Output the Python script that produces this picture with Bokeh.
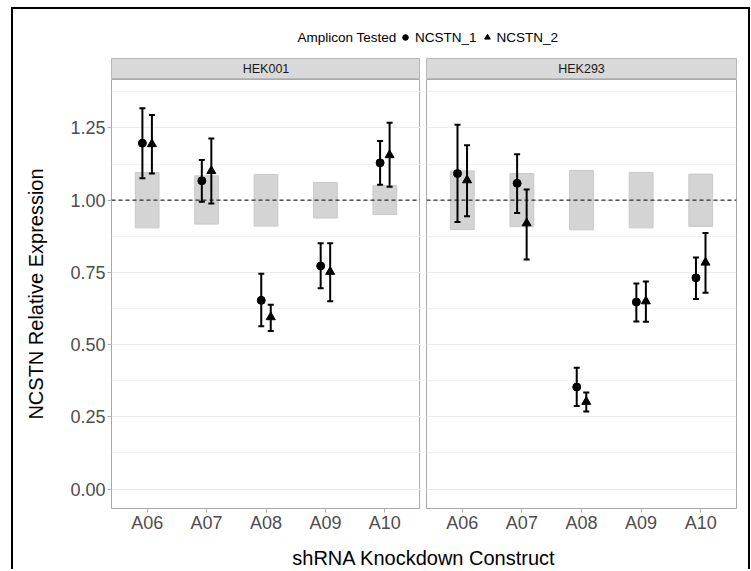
import numpy as np
from bokeh.plotting import figure
from bokeh.models import (ColumnDataSource, Range1d, FactorRange, FixedTicker, Span,
                          Legend, LegendItem, Label, NumeralTickFormatter)
from bokeh.layouts import column, row
from bokeh.transform import dodge
from bokeh.embed import file_html
from bokeh.resources import INLINE

FONT = "Liberation Sans"

constructs = ["A06", "A07", "A08", "A09", "A10"]
cells = ["HEK001", "HEK293"]
amplicons = ["NCSTN_1", "NCSTN_2"]

# HEK001
hek001_n1 = [1.197, 1.067, 0.653, 0.772, 1.129]
hek001_n1_lo = [1.076, 0.994, 0.563, 0.695, 1.053]
hek001_n1_hi = [1.318, 1.139, 0.745, 0.851, 1.205]
hek001_n2 = [1.194, 1.101, 0.595, 0.752, 1.156]
hek001_n2_lo = [1.092, 0.988, 0.547, 0.650, 1.046]
hek001_n2_hi = [1.295, 1.213, 0.638, 0.851, 1.268]
hek001_box_lo = [0.904, 0.917, 0.910, 0.938, 0.950]
hek001_box_hi = [1.096, 1.084, 1.089, 1.061, 1.050]

# HEK293
hek293_n1 = [1.092, 1.058, 0.353, 0.647, 0.731]
hek293_n1_lo = [0.924, 0.955, 0.287, 0.580, 0.658]
hek293_n1_hi = [1.261, 1.159, 0.420, 0.711, 0.801]
hek293_n2 = [1.069, 0.920, 0.302, 0.650, 0.784]
hek293_n2_lo = [0.944, 0.794, 0.268, 0.579, 0.679]
hek293_n2_hi = [1.190, 1.037, 0.334, 0.718, 0.886]
hek293_box_lo = [0.898, 0.908, 0.897, 0.904, 0.909]
hek293_box_hi = [1.101, 1.092, 1.103, 1.096, 1.090]

y_ticks = [0.0, 0.25, 0.5, 0.75, 1.0, 1.25]
y_minor = [0.125, 0.375, 0.625, 0.875, 1.125, 1.375]

panel_data = {
    "HEK001": dict(n1=(hek001_n1, hek001_n1_lo, hek001_n1_hi),
                   n2=(hek001_n2, hek001_n2_lo, hek001_n2_hi),
                   box=(hek001_box_lo, hek001_box_hi)),
    "HEK293": dict(n1=(hek293_n1, hek293_n1_lo, hek293_n1_hi),
                   n2=(hek293_n2, hek293_n2_lo, hek293_n2_hi),
                   box=(hek293_box_lo, hek293_box_hi)),
}

y_range = Range1d(-0.0675, 1.4175)
BORDER_GRAY = "#a9a9a9"
DODGE = 0.08


def make_strip(text, width, left, right):
    s = figure(width=width, height=21, x_range=Range1d(0, 1), y_range=Range1d(0, 1),
               toolbar_location=None, output_backend="svg",
               min_border_left=left, min_border_right=right, min_border_top=0, min_border_bottom=0)
    s.axis.visible = False
    s.grid.visible = False
    s.background_fill_color = "#d9d9d9"
    s.outline_line_color = "#b8b8b8"
    s.outline_line_width = 1
    s.add_layout(Label(x=0.5, y=0.5, text=text, text_align="center", text_baseline="middle",
                       text_font=FONT, text_font_size="12.5px", text_color="#1a1a1a"))
    return s


def make_panel(cell, width, left, right, show_y):
    d = panel_data[cell]
    p = figure(width=width, height=457, x_range=FactorRange(*constructs, range_padding=0.04),
               y_range=y_range, toolbar_location=None, output_backend="svg",
               min_border_left=left, min_border_right=right, min_border_top=0, min_border_bottom=28)
    p.background_fill_color = "white"
    p.outline_line_color = BORDER_GRAY
    p.outline_line_width = 1
    p.xgrid.grid_line_color = None
    p.ygrid.grid_line_color = "#ebebeb"
    p.ygrid.grid_line_width = 1
    p.ygrid.minor_grid_line_color = "#f4f4f4"
    p.ygrid.minor_grid_line_width = 1
    p.yaxis.ticker = FixedTicker(ticks=y_ticks, minor_ticks=y_minor)
    p.yaxis.formatter = NumeralTickFormatter(format="0.00")
    for ax in (p.xaxis, p.yaxis):
        ax.axis_line_color = None
        ax.major_tick_line_color = "#b3b3b3"
        ax.major_tick_out = 4
        ax.major_tick_in = 0
        ax.minor_tick_line_color = None
        ax.major_label_text_font = FONT
        ax.major_label_text_font_size = "18px"
        ax.major_label_text_color = "#4d4d4d"
    p.xaxis.major_label_standoff = 0
    p.yaxis.major_label_standoff = 2
    if show_y:
        p.yaxis.axis_label = "NCSTN Relative Expression"
        p.yaxis.axis_label_text_font = FONT
        p.yaxis.axis_label_text_font_size = "20px"
        p.yaxis.axis_label_text_font_style = "normal"
        p.yaxis.axis_label_text_color = "black"
        p.yaxis.axis_label_standoff = 20
    else:
        p.yaxis.visible = False

    box_src = ColumnDataSource(dict(construct=constructs, lo=d["box"][0], hi=d["box"][1]))
    p.vbar(x="construct", bottom="lo", top="hi", width=0.4, source=box_src,
           fill_color="#d4d4d4", line_color="#c9c9c9", line_width=1)

    p.add_layout(Span(location=1.0, dimension="width", line_color="black",
                      line_width=1, line_dash="4 3", level="glyph"))

    for key, off, marker, size in (("n1", -DODGE, "circle", 8), ("n2", DODGE, "triangle", 9)):
        val, lo, hi = d[key]
        src = ColumnDataSource(dict(construct=constructs, val=val, lo=lo, hi=hi))
        xd = dodge("construct", off, range=p.x_range)
        p.segment(x0=xd, x1=xd, y0="lo", y1="hi", source=src, line_color="black", line_width=2)
        p.scatter(x=xd, y="lo", marker="dash", size=6, line_width=2, line_color="black", source=src)
        p.scatter(x=xd, y="hi", marker="dash", size=6, line_width=2, line_color="black", source=src)
        p.scatter(x=xd, y="val", marker=marker, size=size, fill_color="black",
                  line_color="black", source=src)
    return p


# legend figure (pixel-sized ranges so that placement matches the panels)
lf = figure(width=735, height=49, x_range=Range1d(0, 735), y_range=Range1d(0, 49),
            toolbar_location=None, output_backend="svg", min_border=0)
lf.axis.visible = False
lf.grid.visible = False
lf.outline_line_color = None
# legend-only renderers: one undrawn (NaN) row so the legend has a glyph to show
key_src = ColumnDataSource(dict(x=[float("nan")], y=[float("nan")]))
r1 = lf.scatter(x="x", y="y", marker="circle", size=8, color="black", source=key_src)
r2 = lf.scatter(x="x", y="y", marker="triangle", size=9, color="black", source=key_src)
leg = Legend(items=[LegendItem(label=amplicons[0], renderers=[r1], index=0),
                    LegendItem(label=amplicons[1], renderers=[r2], index=0)],
             orientation="horizontal",
             location=(385, 13), padding=0, margin=0, spacing=3, label_standoff=3,
             glyph_width=14, glyph_height=16,
             border_line_color=None, background_fill_alpha=0)
leg.label_text_font = FONT
leg.label_text_font_size = "13.5px"
leg.label_text_color = "black"
lf.add_layout(leg, "center")
lf.add_layout(Label(x=383, y=21, text="Amplicon Tested", text_align="right",
                    text_baseline="middle", text_font=FONT, text_font_size="13.5px",
                    text_color="black"))

s1 = make_strip(cells[0], 407, 98, 0)
p1 = make_panel(cells[0], 407, 98, 0, True)
s2 = make_strip(cells[1], 328, 6, 12)
p2 = make_panel(cells[1], 328, 6, 12, False)

xt = figure(width=735, height=33, x_range=Range1d(0, 735), y_range=Range1d(0, 33),
            toolbar_location=None, output_backend="svg", min_border=0)
xt.axis.visible = False
xt.grid.visible = False
xt.outline_line_color = None
xt.add_layout(Label(x=410.5, y=12, text="shRNA Knockdown Construct", text_align="center",
                    text_baseline="middle", text_font=FONT, text_font_size="20px",
                    text_color="black"))

layout = column(lf, row(column(s1, p1), column(s2, p2)), xt,
                margin=(7, 0, 0, 11),
                styles={"border-left": "2px solid black", "border-top": "2px solid black",
                        "border-right": "2px solid black"})

open("out.html", "w").write(file_html(layout, INLINE))
